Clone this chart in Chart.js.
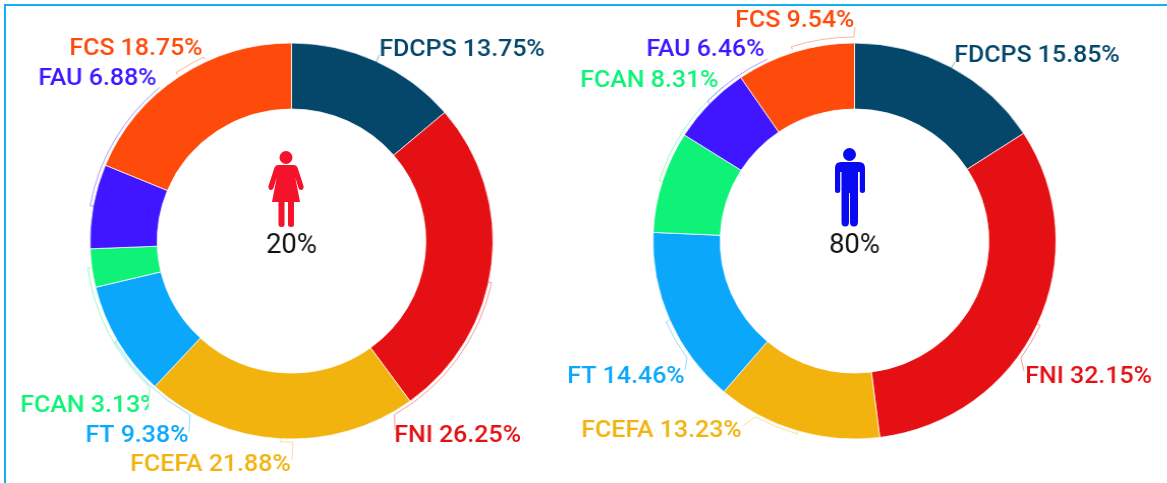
<!DOCTYPE html>
<html><head><meta charset="utf-8">
<script src="https://cdn.jsdelivr.net/npm/chart.js@4"></script>
<style>
html,body{margin:0;padding:0;background:#fff;width:1167px;height:483px;overflow:hidden}
#frame{position:absolute;left:4px;top:4px;width:1200px;height:520px;border:2px solid #12b0ee;box-sizing:border-box}
#stage{position:absolute;left:0;top:0;width:1167px;height:483px;overflow:hidden;filter:blur(.5px)}
canvas{position:absolute;top:0;transform:scaleX(1.0177);transform-origin:50% 50%}
#c1{left:0}
#c2{left:542px}
svg{position:absolute;left:0;top:0}
</style></head>
<body>
<div id="frame"></div>
<div id="stage">
<canvas id="c1" width="583" height="482"></canvas>
<canvas id="c2" width="625" height="482"></canvas>
<svg width="1167" height="483" viewBox="0 0 1167 483">
  <g fill="#f5122b" stroke="none">
    <circle cx="286" cy="157.5" r="6.5"/>
    <path d="M278 165H294Q296.500 165 297.500 167.500L303.500 186Q304 189.500 301.500 190Q299.500 190.500 298.500 188L295.300 177.500L300 202H272L276.700 177.500L273.500 188Q272.500 190.500 270.500 190Q268 189.500 268.500 186L274.500 167.500Q275.500 165 278 165Z"/>
    <path d="M278.500 201H284.500V224.500Q284.500 227 281.500 227Q278.500 227 278.500 224.500Z"/>
    <path d="M288 201H294V224.500Q294 227 291 227Q288 227 288 224.500Z"/>
  </g>
  <g fill="#0a0af2" stroke="none">
    <circle cx="849.500" cy="154.500" r="6.500"/>
    <path d="M841 162H859Q865 162 865 168V190.500Q865 193 862.300 193Q859.800 193 859.800 190.500V172H858V222Q858 226.500 853.800 226.500Q850 226.500 850 222V193H849V222Q849 226.500 845.200 226.500Q841.500 226.500 841.500 222V172H840.200V190.500Q840.200 193 837.600 193Q835 193 835 190.500V168Q835 162 841 162Z"/>
  </g>
</svg>
</div>
<script>
const categories = ['FDCPS','FNI','FCEFA','FT','FCAN','FAU','FCS'];
const womenValues = [13.75,26.25,21.88,9.38,3.13,6.88,18.75];
const menValues = [15.85,32.15,13.23,14.46,8.31,6.46,9.54];
const womenShare = '20%';
const menShare = '80%';
const colors = ['#04476a','#e41013','#f2b30e','#0ba7fb','#0ef277','#3f16ff','#fe4a0b'];

const STRETCH = 1.0177;
const womenLayout = {
  cx:291.5, cy:241,
  labelX:[379.3,394.3,130.3,85.3,20.3,38.3,69.3],
  labelY:[56,442,471,442,412,85,55],
  clipRight:[null,null,null,null,148.5,null,null],
  from:[25,102,183.2,239.8,262.3,280.1,326.1],
  to:[25,149.8,179.6,209.8,223.6,319.8,334.9],
  radius:[198.600,201,201,200.500,202,201,203],
  tailX:[379,395,292,189,148,null,204.700],
  tailY:[55,430,460,432,410,null,59.300],
  centerText:womenShare
};
const menLayout = {
  cx:854.5, cy:241,
  labelX:[954.3,1025.3,581.3,567.3,580.3,646.3,735.3],
  labelY:[62,383,437,383,87,56,27],
  clipRight:[null,null,null,null,null,null,null],
  from:[28.800,114.800,196.300,246.400,287.400,314,342.300],
  to:[28.800,125.600,209,234.600,320.200,334.800,359.800],
  radius:[198.600,201,201,202,201,201,204],
  tailX:[955,1024,743,685,null,null,855],
  tailY:[62,371,426,370,null,null,27],
  centerText:menShare
};

const labelPlugin = {
  id:'leaderLabels',
  afterDraw(chart, args, opts){
    const L = opts.layout, ctx = chart.ctx;
    const arc0 = chart.getDatasetMeta(0).data[0];
    const ox = arc0.x, oy = arc0.y;
    const px = X => ox + (X - L.cx) / STRETCH;
    const py = Y => oy + (Y - L.cy);
    const vals = chart.data.datasets[0].data;
    const cols = chart.data.datasets[0].backgroundColor;
    chart.data.labels.forEach((name,i) => {
      const a0 = (L.from[i]-90)*Math.PI/180, a1 = (L.to[i]-90)*Math.PI/180, r = L.radius[i];
      ctx.save();
      ctx.strokeStyle = cols[i]; ctx.globalAlpha = .42; ctx.lineWidth = 1;
      ctx.beginPath();
      ctx.moveTo(ox+(r-3)*Math.cos(a0), oy+(r-3)*Math.sin(a0));
      ctx.lineTo(ox+r*Math.cos(a0), oy+r*Math.sin(a0));
      if (L.from[i] !== L.to[i]) ctx.arc(ox,oy,r,a0,a1,L.to[i]<L.from[i]);
      if (L.tailX[i] !== null) ctx.lineTo(px(L.tailX[i]),py(L.tailY[i]));
      ctx.stroke();
      ctx.restore();
      ctx.save();
      if (L.clipRight[i] !== null){
        ctx.beginPath();
        ctx.rect(0,0,px(L.clipRight[i]),chart.height);
        ctx.clip();
      }
      ctx.font = '500 24.5px Roboto';
      ctx.fillStyle = cols[i];
      ctx.textAlign = 'left'; ctx.textBaseline = 'alphabetic';
      ctx.fillText(name+' '+vals[i].toFixed(2)+'%', px(L.labelX[i]), py(L.labelY[i]));
      ctx.restore();
    });
    ctx.save();
    ctx.font = '400 27px Roboto';
    ctx.fillStyle = '#111';
    ctx.textAlign = 'center'; ctx.textBaseline = 'alphabetic';
    ctx.fillText(L.centerText, ox, oy+12);
    ctx.restore();
  }
};

function build(id, values, layout){
  return new Chart(document.getElementById(id), {
    type:'doughnut',
    data:{labels:categories, datasets:[{
      data:values, backgroundColor:colors,
      borderColor:'rgba(255,255,255,.75)', borderWidth:1,
      hoverOffset:0, hoverBorderWidth:1
    }]},
    options:{
      responsive:false, animation:false,
      radius:198, cutout:'66.67%',
      layout:{padding:0},
      events:[],
      plugins:{legend:{display:false},title:{display:false},tooltip:{enabled:false},
        leaderLabels:{layout}}
    },
    plugins:[labelPlugin]
  });
}
build('c1', womenValues, womenLayout);
build('c2', menValues, menLayout);
</script>
</body></html>
